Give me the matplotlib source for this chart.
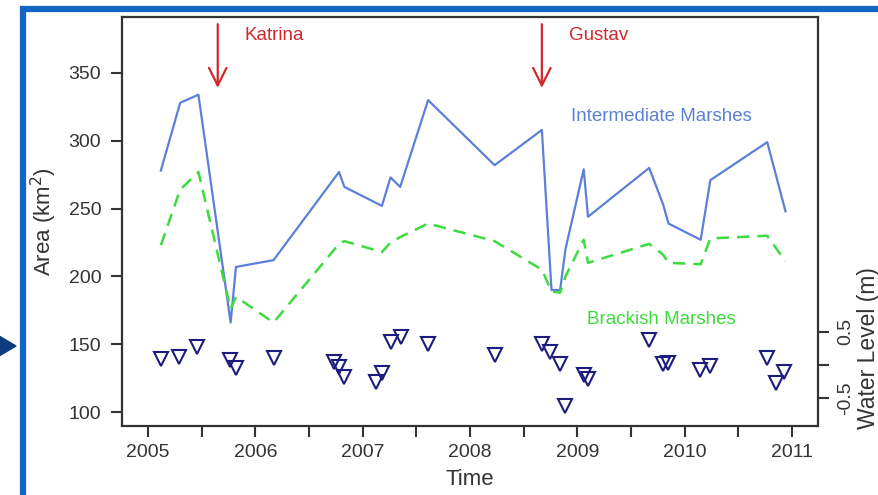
import matplotlib
matplotlib.use('Agg')
import matplotlib.pyplot as plt
from matplotlib.patches import Rectangle, Polygon

plt.rcParams['font.family'] = ['Liberation Sans', 'DejaVu Sans']

# marsh area survey dates (decimal year) and areas in km^2
dates = [2005.12, 2005.30, 2005.47, 2005.77, 2005.82, 2006.17, 2006.78, 2006.83,
         2007.18, 2007.26, 2007.35, 2007.61, 2008.23, 2008.67, 2008.76, 2008.84,
         2008.89, 2009.06, 2009.10, 2009.67, 2009.80, 2009.85, 2010.15, 2010.24,
         2010.77, 2010.94]
intermediate = [278, 328, 334, 166, 207, 212, 277, 266,
                252, 273, 266, 330, 282, 308, 190, 190,
                220, 279, 244, 280, 253, 239, 227, 271,
                299, 248]
brackish = [223, 264, 277, 176, 185, 166, 224, 226,
            218, 225, 229, 239, 226, 205, 189, 188,
            200, 227, 210, 224, 216, 210, 209, 228,
            230, 211]

# water level (m) at image dates
wl_dates = [2005.12, 2005.29, 2005.46, 2005.76, 2005.82, 2006.17, 2006.73, 2006.78,
            2006.83, 2007.12, 2007.18, 2007.26, 2007.36, 2007.61, 2008.23, 2008.67,
            2008.75, 2008.84, 2008.89, 2009.06, 2009.10, 2009.67, 2009.80, 2009.85,
            2010.14, 2010.24, 2010.77, 2010.85, 2010.93]
water_level = [0.09, 0.12, 0.27, 0.08, -0.05, 0.10, 0.05, -0.03,
               -0.18, -0.25, -0.12, 0.35, 0.42, 0.32, 0.15, 0.32,
               0.20, 0.01, -0.61, -0.15, -0.21, 0.38, 0.01, 0.03,
               -0.08, -0.01, 0.10, -0.27, -0.10]

year_ticks = [2005, 2006, 2007, 2008, 2009, 2010, 2011]
half_ticks = [2005.5, 2006.5, 2007.5, 2008.5, 2009.5, 2010.5]
area_ticks = [100, 150, 200, 250, 300, 350]
wl_ticks = [-0.5, 0, 0.5]
wl_labels = ['-0.5', '', '0.5']

storms = ['Katrina', 'Gustav']
storm_dates = [2005.65, 2008.67]

dark = '#333333'
blue = '#5b80d8'
green = '#3ddc3d'
red = '#d0282c'
navy = '#1c1c80'

fig = plt.figure(figsize=(8.79, 4.95), dpi=100)
ax = fig.add_axes([0.1388, 0.1394, 0.7918, 0.8263])

ax.plot(dates, intermediate, color=blue, lw=1.6)
ax.plot(dates, brackish, color=green, lw=1.8, dashes=(5, 3.2))

ax.set_xlim(2004.758, 2011.243)
ax.set_ylim(89.7, 391.3)
ax.set_xticks(year_ticks)
ax.set_xticks(half_ticks, minor=True)
ax.set_yticks(area_ticks)
ax.tick_params(axis='both', which='both', direction='out', length=8, width=1.5,
               color=dark, labelcolor=dark, labelsize=14)
ax.tick_params(axis='x', pad=5)
ax.tick_params(axis='y', pad=7)
for s in ax.spines.values():
    s.set_color(dark)
    s.set_linewidth(1.6)
ax.set_xlabel('Time', fontsize=16, color=dark, labelpad=6)
ax.set_ylabel('Area (km$^2$)', fontsize=16, color=dark, labelpad=7)

# hurricane markers
for name, d in zip(storms, storm_dates):
    ax.annotate('', xy=(d, 339), xytext=(d, 386),
                arrowprops=dict(arrowstyle='->,head_length=0.7,head_width=0.35',
                                color=red, lw=1.6, mutation_scale=18,
                                shrinkA=0, shrinkB=0))
    ax.text(d + 0.25, 378, name, color=red, fontsize=13.5, va='center', ha='left')

ax.text(2008.94, 318, 'Intermediate Marshes', color=blue, fontsize=13.5,
        va='center', ha='left')
ax.text(2009.09, 168, 'Brackish Marshes', color=green, fontsize=13.5,
        va='center', ha='left')

# water level on the right-hand axis
ax2 = ax.twinx()
ax2.plot(wl_dates, water_level, linestyle='none', marker='v', markersize=10,
         markerfacecolor='none', markeredgecolor=navy, markeredgewidth=1.5)
ax2.set_ylim(-0.915, 5.217)
ax2.set_yticks(wl_ticks)
ax2.set_yticklabels(wl_labels, rotation=90, va='center')
ax2.tick_params(axis='y', direction='out', length=8, width=1.5, color=dark,
                labelcolor=dark, labelsize=14, pad=6)
for s in ax2.spines.values():
    s.set_visible(False)
ax2.text(1.072, 0.19, 'Water Level (m)', transform=ax.transAxes, rotation=90,
         fontsize=16.5, color=dark, ha='center', va='center')

# slide frame and pointer
fig.patches.append(Rectangle((23 / 879, -0.05), 1.0, 1 - 9 / 495 + 0.05,
                             transform=fig.transFigure, fill=False,
                             edgecolor='#1466c4', lw=4.5))
fig.patches.append(Polygon([(-6 / 879, 1 - 333 / 495), (16 / 879, 1 - 346 / 495),
                            (-6 / 879, 1 - 359 / 495)], closed=True,
                           transform=fig.transFigure, color='#0e3c80'))

fig.savefig('out.png', dpi=100)
